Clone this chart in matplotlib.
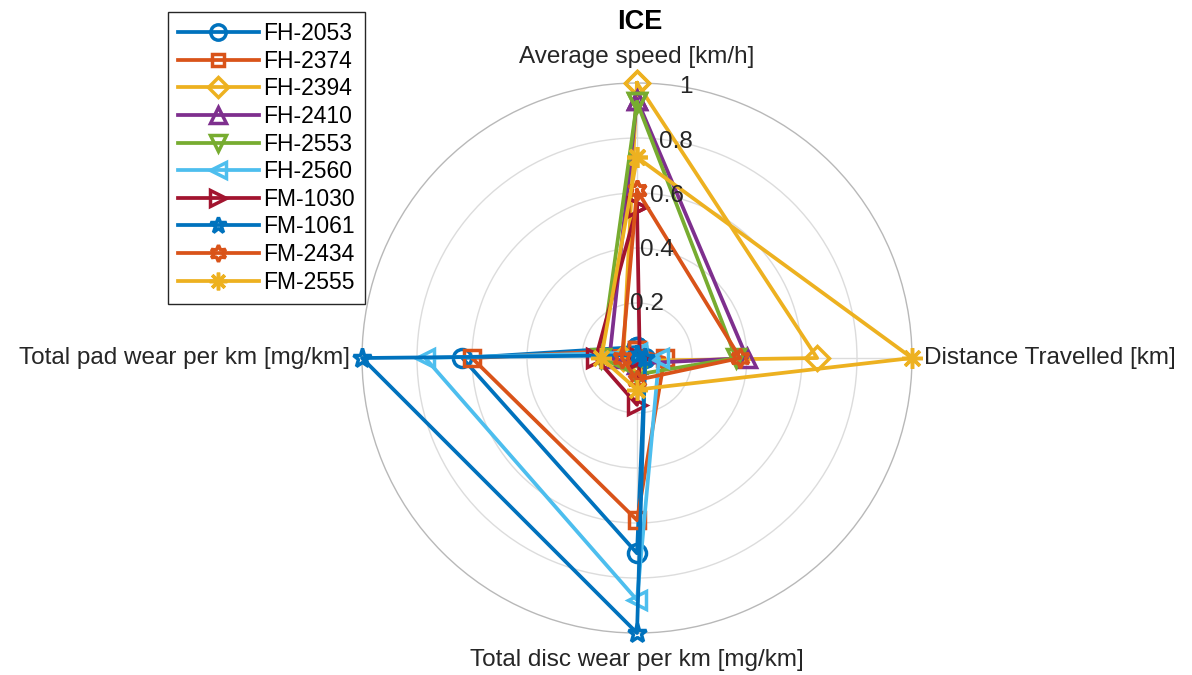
import numpy as np
import matplotlib
matplotlib.use('Agg')
import matplotlib.pyplot as plt

plt.rcParams['font.family'] = ['Liberation Sans', 'DejaVu Sans']

vehicles = ['FH-2053', 'FH-2374', 'FH-2394', 'FH-2410', 'FH-2553',
            'FH-2560', 'FM-1030', 'FM-1061', 'FM-2434', 'FM-2555']
axis_labels = ['Average speed [km/h]', 'Distance Travelled [km]',
               'Total disc wear per km [mg/km]', 'Total pad wear per km [mg/km]']

# normalised values, one list per axis (clockwise from the top)
avg_speed = [0.04, 0.03, 1.00, 0.94, 0.93, 0.02, 0.55, 0.01, 0.61, 0.73]
distance = [0.03, 0.10, 0.655, 0.40, 0.36, 0.08, 0.01, 0.03, 0.375, 1.00]
disc_wear = [0.71, 0.59, 0.01, 0.02, 0.06, 0.88, 0.17, 1.00, 0.08, 0.115]
pad_wear = [0.635, 0.60, 0.05, 0.10, 0.13, 0.77, 0.15, 1.00, 0.055, 0.13]

rtick_values = [0.2, 0.4, 0.6, 0.8, 1.0]
rtick_labels = ['0.2', '0.4', '0.6', '0.8', '1']

colors = ['#0072BD', '#D95319', '#EDB120', '#7E2F8E', '#77AC30',
          '#4DBEEE', '#A2142F', '#0072BD', '#D95319', '#EDB120']
markers = ['o', 's', 'D', '^', 'v', '<', '>', '*', (6, 1, 0), (8, 2, 0)]
msizes = [13, 11, 12, 13, 13, 13, 13, 14, 14, 15]

fig = plt.figure(figsize=(11.92, 6.75), dpi=100)
ax = fig.add_axes([0.3037, 0.0622, 0.4614, 0.8148], projection='polar')
ax.set_theta_zero_location('N')
ax.set_theta_direction(-1)
ax.set_ylim(0, 1)

# web
ax.set_rgrids(rtick_values[:-1], labels=[''] * 4)
ax.set_thetagrids([0, 90, 180, 270], labels=[''] * 4)
ax.grid(True, color='#dcdcdc', linewidth=1.0)
ax.spines['polar'].set_color('#b8b8b8')
ax.spines['polar'].set_linewidth(1.0)
ax.tick_params(length=0)

angles = np.deg2rad([0, 90, 180, 270, 0])
for i, name in enumerate(vehicles):
    vals = [avg_speed[i], distance[i], disc_wear[i], pad_wear[i], avg_speed[i]]
    ax.plot(angles, vals, color=colors[i], linewidth=2.7, marker=markers[i],
            markersize=msizes[i], markerfacecolor='none', markeredgewidth=2.5,
            label=name, clip_on=False, zorder=3 + i)

# radial tick labels along the first axis
for v, lab in zip(rtick_values, rtick_labels):
    ax.text(np.deg2rad(10.3), v, lab, fontsize=17.5, color='#262626',
            ha='center', va='center', zorder=20)

ax.text(0, 1.095, axis_labels[0], fontsize=17.5, ha='center', va='center', color='#262626')
ax.text(np.pi / 2, 1.045, axis_labels[1], fontsize=17.5, ha='left', va='center', color='#262626')
ax.text(np.pi, 1.098, axis_labels[2], fontsize=17.5, ha='center', va='center', color='#262626')
ax.text(3 * np.pi / 2, 1.045, axis_labels[3], fontsize=17.5, ha='right', va='center', color='#262626')

fig.text(640 / 1192, 1 - 22 / 675, 'ICE', fontsize=19.5, fontweight='bold',
         ha='center', va='center')

leg = fig.legend(loc='upper left', bbox_to_anchor=(168 / 1192, 1 - 12 / 675),
                 fontsize=16.5, handlelength=3.5, labelspacing=0.2,
                 borderpad=0.45, handletextpad=0.2, borderaxespad=0,
                 markerscale=0.85, fancybox=False, framealpha=1,
                 edgecolor='#262626')
leg.get_frame().set_linewidth(1.0)

fig.savefig('out.png', dpi=100)
